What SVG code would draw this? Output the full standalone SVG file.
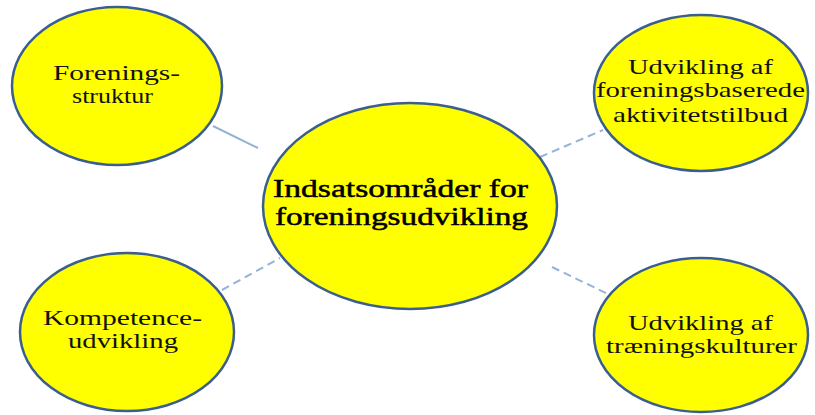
<svg xmlns="http://www.w3.org/2000/svg" width="815" height="415" viewBox="0 0 815 415">
<style>
.node ellipse{fill:#ffff00;stroke:#3a5f8f;stroke-width:2.5}
.conn line{stroke:#95b3d7;stroke-width:2}
.conn .d{stroke-dasharray:8 5}
text{font-family:"Liberation Serif","Times New Roman",serif;font-size:22px;fill:#111;text-anchor:start}
.c{font-size:26px;fill:#000;stroke:#000;stroke-width:0.5}
</style>
<rect width="815" height="415" fill="#ffffff"/>
<g class="conn" id="connectors">
<line x1="213" y1="126" x2="258" y2="148"/>
<line class="d" x1="540" y1="157" x2="603" y2="130"/>
<line class="d" x1="222" y1="290" x2="280" y2="258"/>
<line class="d" x1="552" y1="267" x2="610" y2="295"/>
</g>
<g class="node" id="center">
<ellipse cx="410" cy="206" rx="147" ry="103"/>
<text class="c" x="273" y="197" textLength="255" lengthAdjust="spacingAndGlyphs">Indsatsområder for</text>
<text class="c" x="275" y="225" textLength="253" lengthAdjust="spacingAndGlyphs">foreningsudvikling</text>
</g>
<g class="node" id="forenings-struktur">
<ellipse cx="117" cy="86" rx="105" ry="79"/>
<text x="53" y="80" textLength="127" lengthAdjust="spacingAndGlyphs">Forenings-</text>
<text x="72" y="103" textLength="81" lengthAdjust="spacingAndGlyphs">struktur</text>
</g>
<g class="node" id="aktivitetstilbud">
<ellipse cx="701" cy="93" rx="107" ry="78"/>
<text x="628" y="74" textLength="145" lengthAdjust="spacingAndGlyphs">Udvikling af</text>
<text x="596" y="97" textLength="209" lengthAdjust="spacingAndGlyphs">foreningsbaserede</text>
<text x="613" y="122" textLength="175" lengthAdjust="spacingAndGlyphs">aktivitetstilbud</text>
</g>
<g class="node" id="kompetence">
<ellipse cx="127" cy="332" rx="107" ry="79"/>
<text x="43" y="325" textLength="159" lengthAdjust="spacingAndGlyphs">Kompetence-</text>
<text x="68" y="348" textLength="110" lengthAdjust="spacingAndGlyphs">udvikling</text>
</g>
<g class="node" id="traeningskulturer">
<ellipse cx="701" cy="335" rx="107" ry="77"/>
<text x="628" y="330" textLength="145" lengthAdjust="spacingAndGlyphs">Udvikling af</text>
<text x="606" y="353" textLength="191" lengthAdjust="spacingAndGlyphs">træningskulturer</text>
</g>
</svg>
